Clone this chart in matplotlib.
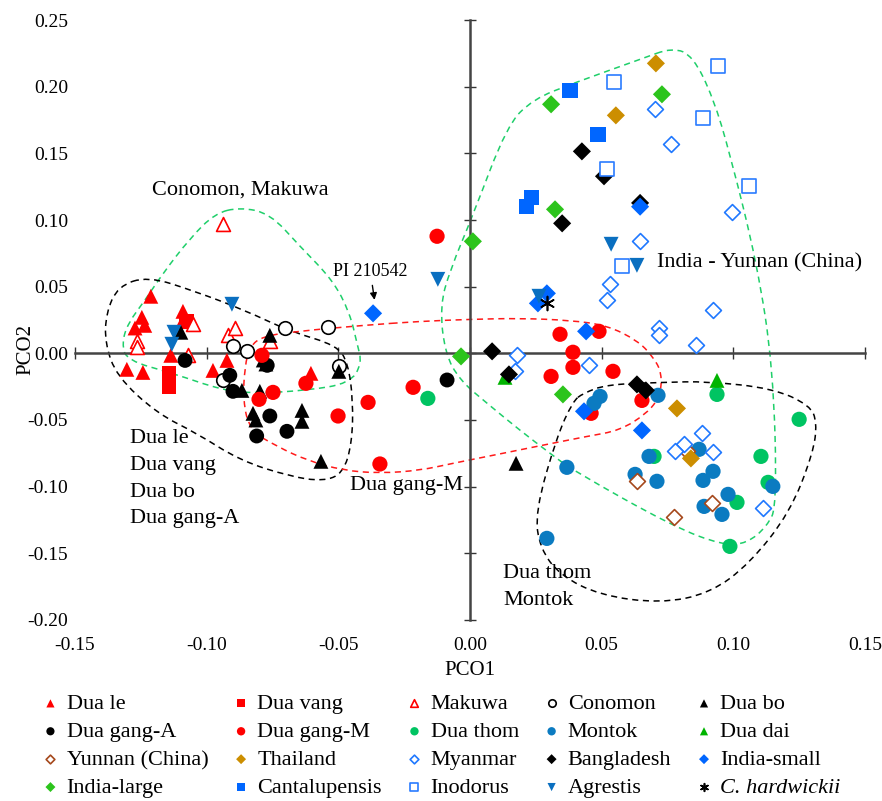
import numpy as np
import matplotlib
matplotlib.use("Agg")
import matplotlib.pyplot as plt
from matplotlib.path import Path
from matplotlib.patches import PathPatch

plt.rcParams['font.family'] = ['Liberation Serif', 'DejaVu Serif']

# ---- data (PCO1, PCO2) per group ----
dua_le_x = [-0.1212, -0.1246, -0.1272, -0.1235, -0.109, -0.1086, -0.1136, -0.1303, -0.1242, -0.0923, -0.0976, -0.0604]
dua_le_y = [0.0428, 0.027, 0.019, 0.021, 0.0315, 0.026, -0.0015, -0.012, -0.0143, -0.0053, -0.0128, -0.015]
dua_vang_x = [-0.1143, -0.1143, -0.1075]
dua_vang_y = [-0.015, -0.0248, 0.024]
makuwa_x = [-0.0938, -0.1052, -0.1265, -0.1265, -0.0919, -0.0893, -0.107, -0.076]
makuwa_y = [0.0968, 0.0218, 0.009, 0.005, 0.0135, 0.0188, -0.0015, 0.009]
conomon_x = [-0.0703, -0.0539, -0.090, -0.0847, -0.0498, -0.0938]
conomon_y = [0.0188, 0.020, 0.0053, 0.0015, -0.0098, -0.020]
dua_bo_x = [-0.1098, -0.076, -0.0785, -0.0775, -0.0498, -0.0866, -0.0798, -0.0824, -0.0813, -0.0638, -0.0638, -0.0566, 0.0175]
dua_bo_y = [0.0158, 0.0135, -0.005, -0.008, -0.0135, -0.0278, -0.0285, -0.045, -0.050, -0.0428, -0.051, -0.081, -0.0825]
gang_a_x = [-0.1082, -0.0912, -0.090, -0.076, -0.081, -0.0695, -0.077, -0.0087]
gang_a_y = [-0.0053, -0.0165, -0.0285, -0.047, -0.062, -0.0585, -0.009, -0.020]
gang_m_x = [-0.0125, -0.079, -0.0623, -0.0748, -0.0801, -0.0501, -0.0387, -0.0216, -0.0342,
            0.0342, 0.049, 0.0391, 0.0391, 0.0308, 0.0543, 0.0653, 0.046]
gang_m_y = [0.0878, -0.0015, -0.0225, -0.0293, -0.0345, -0.047, -0.0368, -0.0255, -0.083,
            0.0143, 0.0165, 0.0008, -0.0105, -0.0173, -0.0135, -0.0353, -0.045]
dua_thom_x = [-0.016, 0.0938, 0.125, 0.1105, 0.1132, 0.1014, 0.0987, 0.0699]
dua_thom_y = [-0.0338, -0.0308, -0.0495, -0.0773, -0.0968, -0.1118, -0.1448, -0.0773]
montok_x = [0.0494, 0.0471, 0.0714, 0.0368, 0.068, 0.0627, 0.071, 0.087, 0.0923, 0.0885, 0.098, 0.0889, 0.0957, 0.115, 0.0292]
montok_y = [-0.0323, -0.0375, -0.0315, -0.0855, -0.0773, -0.0908, -0.096, -0.072, -0.0885, -0.0953, -0.1058, -0.1148, -0.1208, -0.0998, -0.1388]
dua_dai_x = [0.0133, 0.0938]
dua_dai_y = [-0.018, -0.0203]
yunnan_x = [0.0824, 0.0634, 0.0919, 0.0775]
yunnan_y = [-0.0735, -0.096, -0.1125, -0.123]
thailand_x = [0.0706, 0.0554, 0.0786, 0.0839]
thailand_y = [0.2175, 0.1785, -0.0413, -0.0788]
myanmar_x = [0.0703, 0.0763, 0.0995, 0.0646, 0.0532, 0.052, 0.0923, 0.0718, 0.0718, 0.0858,
             0.0179, 0.0171, 0.0452, 0.0881, 0.0813, 0.0779, 0.0923, 0.1113]
myanmar_y = [0.183, 0.157, 0.1058, 0.084, 0.0518, 0.040, 0.0323, 0.0188, 0.0135, 0.006,
             -0.0015, -0.0135, -0.009, -0.060, -0.068, -0.0735, -0.0743, -0.1163]
bangla_x = [0.0425, 0.0509, 0.0646, 0.035, 0.0084, 0.0148, 0.0634, 0.0668]
bangla_y = [0.1515, 0.1328, 0.1128, 0.0975, 0.0015, -0.0158, -0.0233, -0.0278]
ind_small_x = [-0.0368, 0.0292, 0.0258, 0.0646, 0.0441, 0.0433, 0.0653]
ind_small_y = [0.030, 0.045, 0.0375, 0.110, 0.0165, -0.0435, -0.0578]
ind_large_x = [0.0729, 0.0308, 0.0323, 0.0011, -0.0034, 0.0353]
ind_large_y = [0.1943, 0.1868, 0.108, 0.084, -0.0023, -0.0308]
cantal_x = [0.038, 0.0486, 0.0235, 0.0216]
cantal_y = [0.197, 0.1643, 0.117, 0.110]
inodorus_x = [0.0547, 0.0942, 0.0885, 0.052, 0.106, 0.0577]
inodorus_y = [0.2033, 0.2153, 0.1763, 0.138, 0.1253, 0.0653]
agrestis_x = [-0.0904, -0.1124, -0.1132, -0.0122, 0.0536, 0.0634, 0.0262]
agrestis_y = [0.0368, 0.0158, 0.0068, 0.0555, 0.0818, 0.066, 0.0428]
hardw_x = [0.0292]
hardw_y = [0.0375]

x_ticks = [-0.15, -0.10, -0.05, 0.0, 0.05, 0.10, 0.15]
y_ticks = [-0.20, -0.15, -0.10, -0.05, 0.0, 0.05, 0.10, 0.15, 0.20, 0.25]

# group outlines (dashed hulls)
hull_green_l = ([-0.0874, -0.076, -0.0646, -0.052, -0.0456, -0.0429, -0.041, -0.0456, -0.0619, -0.0809,
                 -0.0938, -0.1128, -0.1303, -0.1322, -0.1299, -0.1234, -0.1166, -0.1063, -0.0968],
                [0.1095, 0.105, 0.0803, 0.0548, 0.030, 0.0075, -0.0075, -0.0225, -0.0278, -0.030,
                 -0.0278, -0.015, -0.0053, 0.0075, 0.0225, 0.0398, 0.060, 0.0863, 0.105])
hull_black_l = ([-0.1223, -0.1044, -0.0855, -0.0684, -0.0505, -0.0463, -0.0444, -0.0448, -0.0482, -0.0558,
                 -0.0684, -0.0874, -0.1037, -0.1189, -0.1341, -0.1386, -0.1382, -0.1337],
                [0.0578, 0.0465, 0.0323, 0.0165, 0.006, -0.0075, -0.0353, -0.0675, -0.090, -0.096,
                 -0.0923, -0.0803, -0.060, -0.045, -0.0173, 0.0075, 0.030, 0.0503])
hull_red = ([-0.019, 0.0, 0.019, 0.038, 0.052, 0.0634, 0.0695, 0.0729, 0.0722, 0.0672, 0.057, 0.0444, 0.0254,
             0.0125, -0.0065, -0.019, -0.0342, -0.0482, -0.0619, -0.0733, -0.0836, -0.0862, -0.0855,
             -0.0836, -0.0786, -0.0657, -0.0406],
            [0.024, 0.0255, 0.0263, 0.0248, 0.021, 0.0098, -0.0023, -0.015, -0.0323, -0.045, -0.0578, -0.0623,
             -0.0698, -0.075, -0.0825, -0.0878, -0.090, -0.0878, -0.0803, -0.0698, -0.0578, -0.0353, -0.0098,
             0.0053, 0.0128, 0.0165, 0.021])
hull_green_r = ([0.0771, 0.0847, 0.0923, 0.0987, 0.109, 0.1151, 0.1166, 0.1128, 0.1052, 0.0961, 0.0771, 0.0391,
                 0.0304, 0.019, 0.0065, -0.0038, -0.0095, -0.0114, -0.0076, 0.0011, 0.0141, 0.0239, 0.0391, 0.0646],
                [0.2295, 0.2228, 0.192, 0.150, 0.0675, -0.0105, -0.114, -0.1298, -0.1425, -0.144, -0.1298, -0.0878,
                 -0.075, -0.0578, -0.0375, -0.0203, 0.0, 0.0353, 0.0623, 0.1035, 0.171, 0.1905, 0.2025, 0.2205])
hull_black_r = ([0.0429, 0.052, 0.0733, 0.090, 0.1151, 0.1291, 0.1318, 0.1303, 0.1215, 0.1063, 0.0912, 0.0722,
                 0.0494, 0.0342, 0.0266, 0.0247, 0.033, 0.0391],
                [-0.030, -0.0233, -0.0218, -0.021, -0.0263, -0.039, -0.0518, -0.075, -0.1193, -0.1575, -0.180,
                 -0.1875, -0.1815, -0.1665, -0.1463, -0.1193, -0.0623, -0.036])


def smooth_closed(xs, ys):
    pts = np.column_stack([xs, ys])
    mids = (pts + np.roll(pts, -1, axis=0)) / 2
    verts = [mids[-1]]
    codes = [Path.MOVETO]
    for i in range(len(pts)):
        verts += [pts[i], mids[i]]
        codes += [Path.CURVE3, Path.CURVE3]
    return Path(verts, codes)


fig = plt.figure(figsize=(8.82, 8.01), dpi=100)
pos = [0.085, 0.226, 0.8957, 0.749]
ax = fig.add_axes(pos)
lab = fig.add_axes(pos, sharex=ax, sharey=ax, zorder=-1)

ax.set_xlim(-0.15, 0.15)
ax.set_ylim(-0.20, 0.25)
ax.set_xticks(x_ticks)
ax.set_yticks(y_ticks)
ax.spines['left'].set_position(('data', 0))
ax.spines['bottom'].set_position(('data', 0))
for s in ['top', 'right']:
    ax.spines[s].set_visible(False)
for s in ['left', 'bottom']:
    ax.spines[s].set_color('#444444')
    ax.spines[s].set_linewidth(1.8)
ax.tick_params(direction='inout', length=8, width=1, color='#333333',
               labelbottom=False, labelleft=False)
ax.patch.set_visible(False)

for s in lab.spines.values():
    s.set_visible(False)
lab.patch.set_visible(False)
lab.tick_params(length=0, labelsize=14)
lab.tick_params(axis='x', pad=12)
lab.tick_params(axis='y', pad=5)
lab.xaxis.set_major_formatter(matplotlib.ticker.FormatStrFormatter('%.2f'))
lab.yaxis.set_major_formatter(matplotlib.ticker.FormatStrFormatter('%.2f'))
lab.set_xlabel('PCO1', fontsize=15)
lab.set_ylabel('PCO2', fontsize=15)
lab.xaxis.set_label_coords(0.5, -0.068)
lab.yaxis.set_label_coords(-0.05, 0.45)

# hulls
dash = (0, (4, 3))
for (hx, hy), col in [(hull_green_l, '#1fcf6a'), (hull_black_l, 'black'), (hull_red, '#ff1a1a'),
                      (hull_green_r, '#1fcf6a'), (hull_black_r, 'black')]:
    ax.add_patch(PathPatch(smooth_closed(hx, hy), fill=False, edgecolor=col,
                           linestyle=dash, linewidth=1.1, zorder=2))

handles = []


def pts(x, y, marker, color, label, filled=True, s=90, lw=1.2):
    if filled:
        h = ax.scatter(x, y, marker=marker, s=s, c=color, edgecolors='none', label=label, zorder=3)
    else:
        h = ax.scatter(x, y, marker=marker, s=s, facecolors='white', edgecolors=color,
                       linewidths=lw, label=label, zorder=3)
    handles.append(h)


red = '#ff0000'
pts(dua_le_x, dua_le_y, '^', red, 'Dua le', s=115)
pts(dua_vang_x, dua_vang_y, 's', red, 'Dua vang', s=115)
pts(makuwa_x, makuwa_y, '^', red, 'Makuwa', filled=False, s=100)
pts(conomon_x, conomon_y, 'o', 'black', 'Conomon', filled=False, s=95)
pts(dua_bo_x, dua_bo_y, '^', 'black', 'Dua bo', s=115)
pts(gang_a_x, gang_a_y, 'o', 'black', 'Dua gang-A', s=115)
pts(gang_m_x, gang_m_y, 'o', red, 'Dua gang-M', s=120)
pts(dua_thom_x, dua_thom_y, 'o', '#00c462', 'Dua thom', s=120)
pts(montok_x, montok_y, 'o', '#0b7bc1', 'Montok', s=120)
pts(dua_dai_x, dua_dai_y, '^', '#00b400', 'Dua dai', s=115)
pts(yunnan_x, yunnan_y, 'D', '#a5481c', 'Yunnan (China)', filled=False, s=65)
pts(thailand_x, thailand_y, 'D', '#cc8e00', 'Thailand', s=85)
pts(myanmar_x, myanmar_y, 'D', '#1f78ff', 'Myanmar', filled=False, s=65)
pts(bangla_x, bangla_y, 'D', 'black', 'Bangladesh', s=85)
pts(ind_small_x, ind_small_y, 'D', '#0066ff', 'India-small', s=85)
pts(ind_large_x, ind_large_y, 'D', '#2cc41c', 'India-large', s=85)
pts(cantal_x, cantal_y, 's', '#0066ff', 'Cantalupensis', s=120)
pts(inodorus_x, inodorus_y, 's', '#2a7bff', 'Inodorus', filled=False, s=110)
pts(agrestis_x, agrestis_y, 'v', '#0a6fc0', 'Agrestis', s=115)
pts(hardw_x, hardw_y, (6, 2, 0), 'black', 'C. hardwickii', filled=False, s=100)
handles[-1].set_facecolors('black')

# annotations
ax.text(-0.1208, 0.1223, 'Conomon, Makuwa', fontsize=16, va='center')
ax.text(0.071, 0.0675, 'India - Yunnan (China)', fontsize=16, va='center')
ax.text(-0.1291, -0.0941, 'Dua le\nDua vang\nDua bo\nDua gang-A', fontsize=16, va='center',
        linespacing=1.55)
ax.text(-0.0456, -0.099, 'Dua gang-M', fontsize=16, va='center')
ax.text(0.0125, -0.1755, 'Dua thom\nMontok', fontsize=16, va='center', linespacing=1.55)
ax.annotate('PI 210542', xy=(-0.0361, 0.038), xytext=(-0.052, 0.0615), fontsize=13, va='center',
            arrowprops=dict(arrowstyle='-|>', color='black', lw=1, shrinkA=2, shrinkB=2,
                            mutation_scale=10))

# legend row-major in 5 columns
order = [r * 5 + c for c in range(5) for r in range(4)]
leg = fig.legend([handles[i] for i in order], [handles[i].get_label() for i in order],
                 loc='upper left', bbox_to_anchor=(0.049, 0.134), ncol=5, frameon=False,
                 fontsize=16, markerscale=0.55, handlelength=0.65, handletextpad=0.4,
                 columnspacing=1.15, labelspacing=0.33, borderaxespad=0, borderpad=0)
for t in leg.get_texts():
    if t.get_text() == 'C. hardwickii':
        t.set_style('italic')

fig.savefig('out.png', dpi=100)
